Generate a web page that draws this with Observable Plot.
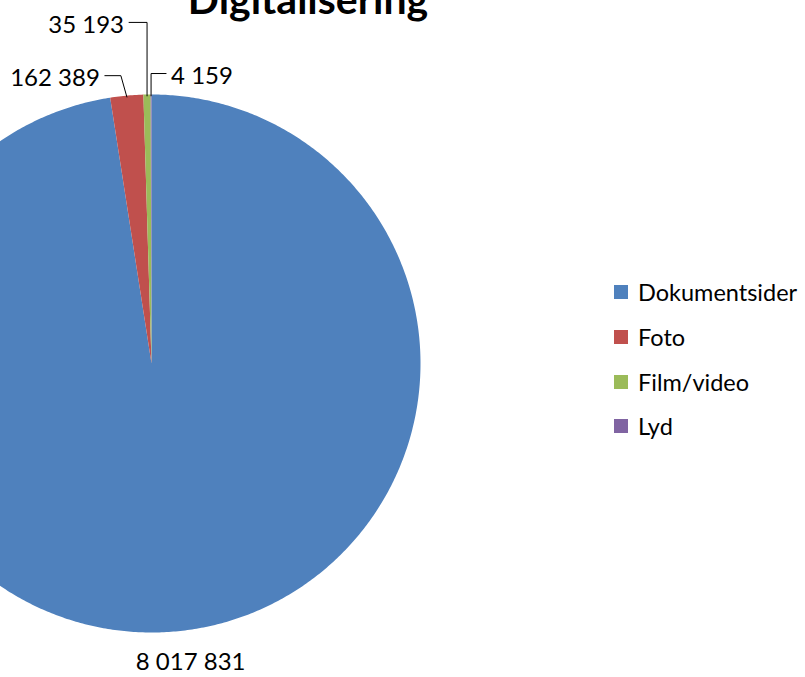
<!DOCTYPE html>
<html><head><meta charset="utf-8">
<script src="https://cdn.jsdelivr.net/npm/d3@7"></script>
<script src="https://cdn.jsdelivr.net/npm/@observablehq/plot@0.6"></script>
<style>
html,body{margin:0;padding:0;background:#fff;overflow:hidden}
#wrap{position:relative;width:805px;height:677px;font-family:Lato,"Open Sans",sans-serif;overflow:hidden}
#title{position:absolute;left:0;width:616px;text-align:center;top:-22px;line-height:41px;font-size:41px;font-weight:bold;color:#000;z-index:2}
#chart{position:absolute;left:0;top:0}
#legend{position:absolute;left:614px;top:270px;font-size:23.5px;color:#000}
.row{height:44.7px;display:flex;align-items:center}
.sw{width:14px;height:14px;margin-right:10px;flex:none}
</style></head><body>
<div id="wrap"><div id="chart"></div><div id="title">Digitalisering</div><div id="legend"></div></div>
<script>
// ---- data ----
const categories = ["Dokumentsider", "Foto", "Film/video", "Lyd"];
const values = [8017831, 162389, 35193, 4159];
const colors = ["#4F81BD", "#C0504D", "#9BBB59", "#8064A2"];

// ---- layout helpers ----
const fmt = d3.formatLocale({thousands: "\u00a0", grouping: [3], decimal: ",", currency: ["", ""]}).format(",d");
const total = d3.sum(values);
const slices = [];
let acc = 0;
values.forEach((v, i) => {
  const a0 = acc / total * 2 * Math.PI;
  acc += v;
  const a1 = acc / total * 2 * Math.PI;
  slices.push({name: categories[i], value: v, a0, a1, mid: (a0 + a1) / 2});
});
const pt = (a, r) => ({x: r * Math.sin(a), y: r * Math.cos(a)});

// slice polygons (angles clockwise from 12 o'clock)
const polys = [];
for (const s of slices) {
  const n = Math.max(2, Math.ceil((s.a1 - s.a0) / (Math.PI / 360)));
  polys.push({name: s.name, ...pt(0, 0)});
  for (let k = 0; k <= n; k++) polys.push({name: s.name, ...pt(s.a0 + (s.a1 - s.a0) * k / n, 1)});
  polys.push({name: s.name, ...pt(0, 0)});
}

// label layout (style): elbow height (in radii), elbow shift & segment length (px), side
const R = 269; // px per unit radius
const layout = {
  "Foto":       {k: 1.07,  shift: -6, len: 16, side: -1},
  "Film/video": {k: 1.268, shift: 0,  len: 18, side: -1},
  "Lyd":        {k: 1.078, shift: 0,  len: 15, side: 1}
};
const leaders = [];
const sideLabels = [];
for (const s of slices) {
  const L = layout[s.name];
  if (!L) continue;
  const rim = pt(s.mid, 0.995);
  const elbow = {x: rim.x + L.shift / R, y: L.k};
  const end = {x: elbow.x + L.side * L.len / R, y: elbow.y};
  leaders.push({name: s.name, ...rim}, {name: s.name, ...elbow}, {name: s.name, ...end});
  sideLabels.push({name: s.name, side: L.side, x: end.x + L.side * 5 / R, y: end.y, text: fmt(s.value)});
}
const big = slices[0];
const bigLabel = [{...pt(big.mid, 1.115), text: fmt(big.value)}];

const cx = 151, cy = 363;
const chart = Plot.plot({
  width: 805,
  height: 677,
  margin: 0,
  style: {fontFamily: "Lato, 'Open Sans', sans-serif", background: "transparent", overflow: "visible"},
  x: {domain: [-1, 1], range: [cx - R, cx + R], axis: null},
  y: {domain: [-1, 1], range: [cy + R, cy - R], axis: null},
  color: {domain: categories, range: colors},
  marks: [
    Plot.line(polys, {x: "x", y: "y", z: "name", fill: "name", stroke: "none", curve: "linear"}),
    Plot.line(leaders, {x: "x", y: "y", z: "name", stroke: "#000", strokeWidth: 1, curve: "linear"}),
    Plot.text(sideLabels.filter(d => d.side < 0), {x: "x", y: "y", text: "text", textAnchor: "end", dy: 2.5, fontSize: 24, fill: "#000"}),
    Plot.text(sideLabels.filter(d => d.side > 0), {x: "x", y: "y", text: "text", textAnchor: "start", dy: 2.5, fontSize: 24, fill: "#000"}),
    Plot.text(bigLabel, {x: "x", y: "y", text: "text", textAnchor: "middle", dx: 16, fontSize: 24, fill: "#000"})
  ]
});
document.getElementById("chart").appendChild(chart);

const leg = document.getElementById("legend");
categories.forEach((c, i) => {
  const row = document.createElement("div");
  row.className = "row";
  row.innerHTML = `<span class="sw" style="background:${colors[i]}"></span><span>${c}</span>`;
  leg.appendChild(row);
});
</script>
</body></html>
